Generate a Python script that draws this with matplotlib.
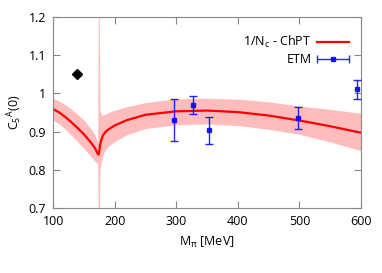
import matplotlib
matplotlib.use('Agg')
import matplotlib.pyplot as plt
from matplotlib.ticker import FormatStrFormatter, MultipleLocator
from matplotlib.legend_handler import HandlerErrorbar
import numpy as np

plt.rcParams['font.family'] = ['Open Sans', 'DejaVu Sans']
plt.rcParams['mathtext.default'] = 'regular'
plt.rcParams['mathtext.fontset'] = 'custom'
plt.rcParams['mathtext.rm'] = 'Open Sans'
plt.rcParams['mathtext.it'] = 'Open Sans'

# 1/Nc - ChPT curve with its band
mpi = [100, 110, 120, 130, 140, 150, 160, 168, 172.5, 173.6, 174.0, 174.4,
       176, 178, 181, 185, 190, 200, 220, 250, 300, 350, 400, 450, 500, 550, 600]
cs = [0.959, 0.950, 0.938, 0.924, 0.909, 0.893, 0.874, 0.857, 0.842, 0.840, 0.840, 0.842,
      0.862, 0.877, 0.890, 0.899, 0.906, 0.916, 0.930, 0.944, 0.953, 0.955, 0.951, 0.942, 0.929, 0.914, 0.897]
cs_up = [0.987, 0.980, 0.970, 0.958, 0.945, 0.930, 0.910, 0.892, 0.870, 1.30, 1.30, 1.30,
         0.955, 0.945, 0.943, 0.946, 0.950, 0.956, 0.965, 0.976, 0.986, 0.987, 0.985, 0.978, 0.967, 0.958, 0.948]
cs_lo = [0.930, 0.920, 0.906, 0.890, 0.873, 0.856, 0.838, 0.822, 0.815, 0.60, 0.60, 0.60,
         0.800, 0.818, 0.840, 0.852, 0.862, 0.874, 0.892, 0.908, 0.918, 0.920, 0.916, 0.906, 0.893, 0.873, 0.850]

# ETM lattice points
etm_m = [296, 328, 353, 498, 593]
etm_c = [0.931, 0.970, 0.904, 0.936, 1.011]
etm_up = [0.986, 0.994, 0.939, 0.965, 1.036]
etm_lo = [0.875, 0.946, 0.868, 0.908, 0.985]

# physical point
phys_m = [139.57]
phys_c = [1.05]

fig = plt.figure(figsize=(3.82, 2.73), dpi=100)
ax = fig.add_axes([0.139, 0.238, 0.806, 0.700])

ax.fill_between(mpi, cs_lo, cs_up, color='#ffbcbc', lw=0, zorder=1)
ax.plot(mpi, cs, color='red', lw=1.6, zorder=2, label='1/N$_c$ - ChPT')

c = np.array(etm_c)
yerr = [c - np.array(etm_lo), np.array(etm_up) - c]
ax.errorbar(etm_m, etm_c, yerr=yerr, fmt='s', color='blue', ms=3.5,
            elinewidth=1.0, capsize=3, capthick=1.0, zorder=3, alpha=0.85)
# proxy with horizontal bar for the legend, gnuplot style
proxy = ax.errorbar([np.nan], [np.nan], xerr=[1], fmt='s', color='blue', ms=3.5,
                    elinewidth=1.0, capsize=3, capthick=1.0, label='ETM', alpha=0.85)

ax.plot(phys_m, phys_c, 'D', color='black', ms=5, zorder=3)

ax.set_xlim(100, 600)
ax.set_ylim(0.7, 1.2)
ax.xaxis.set_major_locator(MultipleLocator(100))
ax.yaxis.set_major_locator(MultipleLocator(0.1))
ax.yaxis.set_major_formatter(FormatStrFormatter('%g'))
ax.tick_params(direction='in', top=True, right=True, length=5, color='#888888',
               labelsize=9, pad=5)
for s in ax.spines.values():
    s.set_color('#888888')

ax.set_xlabel('M$_\\pi$ [MeV]', fontsize=9, labelpad=5)
ax.set_ylabel('C$_5$$^A$(0)', fontsize=9, labelpad=6)
ax.yaxis.set_label_coords(-0.095, 0.5)

h, l = ax.get_legend_handles_labels()
ax.legend(h, l, loc='upper right', frameon=False, markerfirst=False, fontsize=9,
          handlelength=2.6, handletextpad=0.4, borderaxespad=0, borderpad=0,
          labelspacing=0.25,
          bbox_to_anchor=(349 / 382, 1 - 34 / 273), bbox_transform=fig.transFigure,
          handler_map={type(proxy): HandlerErrorbar(xerr_size=1.3)})

fig.savefig('out.png', dpi=100)
